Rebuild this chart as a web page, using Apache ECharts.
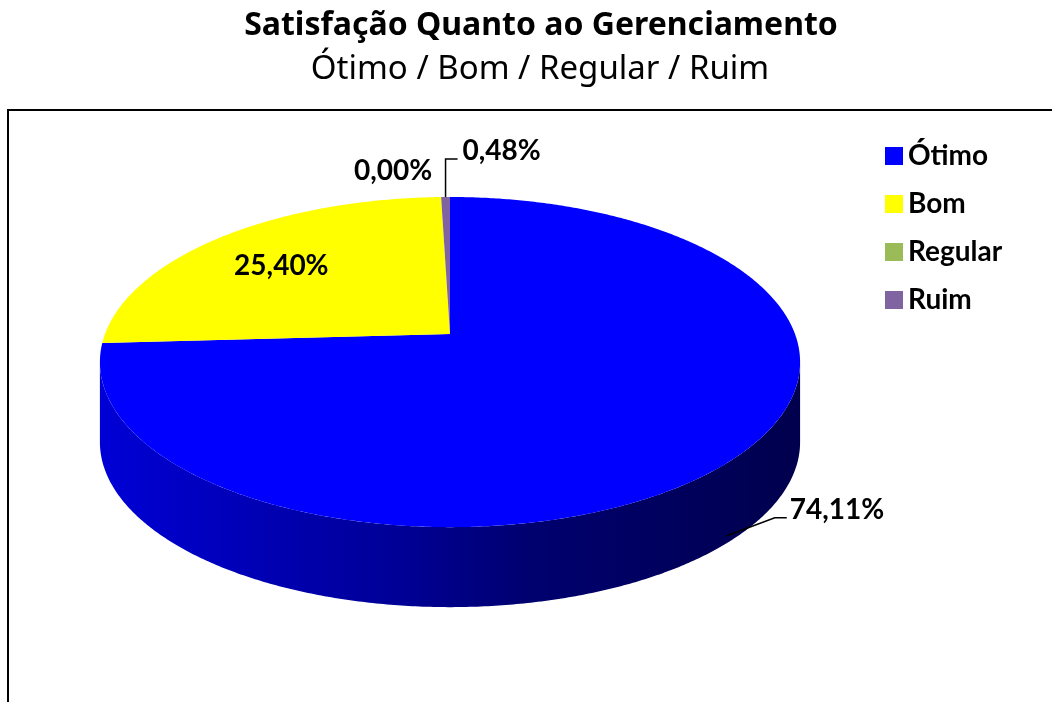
<!DOCTYPE html>
<html>
<head>
<meta charset="utf-8">
<script src="https://cdn.jsdelivr.net/npm/echarts@6/dist/echarts.min.js"></script>
<style>
html, body { margin: 0; padding: 0; background: #fff; }
#chart { width: 1052px; height: 702px; }
</style>
</head>
<body>
<div id="chart"></div>
<script>
var categorias = ['Ótimo', 'Bom', 'Regular', 'Ruim'];
var percentuais = [74.11, 25.40, 0.00, 0.48];
var cores = ['#0000FF', '#FFFF00', '#9BBB59', '#8064A2'];

var chart = echarts.init(document.getElementById('chart'));

// geometria da pizza 3D (perspectiva simples)
var CX = 450, CY = 334, RX = 345, RY = 160.3, K = 0.17, ALTURA = 80;
var silA = Math.acos(-K) * 180 / Math.PI;   // silhueta direita
var silB = 360 - silA;                       // silhueta esquerda
var FONTE = 'Lato';

var total = percentuais.reduce(function (a, b) { return a + b; }, 0);
var inicio = [];
var acum = 0;
for (var i = 0; i < percentuais.length; i++) {
    inicio.push(360 * acum / total);
    acum += percentuais[i];
}

function proj(theta, r) {
    var t = theta * Math.PI / 180;
    var X = r * Math.sin(t), Z = -r * Math.cos(t);
    var d = 1 - K * Z;
    return [CX + RX * X / d, CY + RY * Z / d];
}

function arco(s, e) {
    var n = Math.max(2, Math.ceil((e - s) / 0.5));
    var pts = [];
    for (var j = 0; j <= n; j++) pts.push(proj(s + (e - s) * j / n, 1));
    return pts;
}

function escurecer(hex, f) {
    var r = parseInt(hex.substr(1, 2), 16), g = parseInt(hex.substr(3, 2), 16), b = parseInt(hex.substr(5, 2), 16);
    return 'rgb(' + Math.round(r * f) + ',' + Math.round(g * f) + ',' + Math.round(b * f) + ')';
}

function rotulo(v) {
    return v.toFixed(2).replace('.', ',') + '%';
}

var estiloRotulo = { fontFamily: FONTE, fontWeight: 'bold', fontSize: 28, fill: '#000' };
var estiloLinha = { stroke: '#000', lineWidth: 1.5, fill: null };

function fatia(i, v) {
    var s = inicio[i], e = s + 360 * v / total, meio = (s + e) / 2;
    var filhos = [];
    if (v > 0) {
        var ws = Math.max(s, silA), we = Math.min(e, silB);
        if (we > ws) {
            var cima = arco(ws, we);
            var baixo = cima.map(function (p) { return [p[0], p[1] + ALTURA]; }).reverse();
            filhos.push({
                type: 'polygon', z2: 1,
                shape: { points: cima.concat(baixo) },
                style: {
                    fill: new echarts.graphic.LinearGradient(0, 0, 1, 0, [
                        { offset: 0, color: escurecer(cores[i], 0.84) },
                        { offset: 0.43, color: escurecer(cores[i], 0.59) },
                        { offset: 0.61, color: escurecer(cores[i], 0.44) },
                        { offset: 1, color: escurecer(cores[i], 0.30) }
                    ])
                }
            });
        }
        filhos.push({
            type: 'polygon', z2: 5,
            shape: { points: [proj(0, 0)].concat(arco(s, e)) },
            style: { fill: cores[i] }
        });
    }
    var txt = rotulo(v), a;
    if (i === 0) {
        a = proj(meio, 1); a[1] += ALTURA;
        a = [a[0] - 7, a[1] - 3];
        filhos.push({ type: 'polyline', z2: 8, shape: { points: [a, [a[0] + 48, a[1] - 18], [a[0] + 60, a[1] - 18]] }, style: estiloLinha });
        filhos.push({ type: 'text', z2: 9, x: a[0] + 63, y: a[1] - 26, style: Object.assign({ text: txt, align: 'left', verticalAlign: 'middle' }, estiloRotulo) });
    } else if (i === 1) {
        a = proj(meio, 0.7);
        filhos.push({ type: 'text', z2: 9, x: a[0] - 4, y: a[1] + 2, style: Object.assign({ text: txt, align: 'center', verticalAlign: 'middle' }, estiloRotulo) });
    } else if (i === 2) {
        a = proj(s, 1);
        filhos.push({ type: 'text', z2: 9, x: a[0] - 9, y: a[1] - 26, style: Object.assign({ text: txt, align: 'right', verticalAlign: 'middle' }, estiloRotulo) });
    } else {
        a = proj(meio, 1);
        filhos.push({ type: 'polyline', z2: 8, shape: { points: [[a[0], a[1]], [a[0], a[1] - 38], [a[0] + 12, a[1] - 38]] }, style: estiloLinha });
        filhos.push({ type: 'text', z2: 9, x: a[0] + 17, y: a[1] - 46, style: Object.assign({ text: txt, align: 'left', verticalAlign: 'middle' }, estiloRotulo) });
    }
    return { type: 'group', children: filhos };
}

chart.setOption({
    animation: false,
    title: [{
        text: 'Satisfação Quanto ao Gerenciamento',
        left: 536, top: 5, textAlign: 'center',
        textStyle: { fontFamily: 'Noto Sans', fontWeight: 'bold', fontSize: 32, color: '#000' }
    }, {
        text: 'Ótimo / Bom / Regular / Ruim',
        left: 535, top: 48, textAlign: 'center',
        textStyle: { fontFamily: 'Noto Sans', fontWeight: 'normal', fontSize: 33, color: '#000' }
    }],
    legend: {
        orient: 'vertical',
        left: 880, top: 136,
        itemWidth: 18, itemHeight: 18, itemGap: 18,
        icon: 'rect',
        data: categorias,
        selectedMode: false,
        textStyle: { fontFamily: FONTE, fontWeight: 'bold', fontSize: 28, lineHeight: 30, color: '#000', padding: [0, 0, 0, 0] }
    },
    graphic: [{
        type: 'rect', z: -1,
        shape: { x: 8, y: 110, width: 1100, height: 700 },
        style: { fill: 'none', stroke: '#000', lineWidth: 2 }
    }],
    series: categorias.map(function (nome, i) {
        return {
            type: 'custom',
            name: nome,
            coordinateSystem: 'none',
            itemStyle: { color: cores[i] },
            data: [percentuais[i]],
            renderItem: function (params, api) {
                return fatia(i, api.value(0));
            }
        };
    })
});
</script>
</body>
</html>
